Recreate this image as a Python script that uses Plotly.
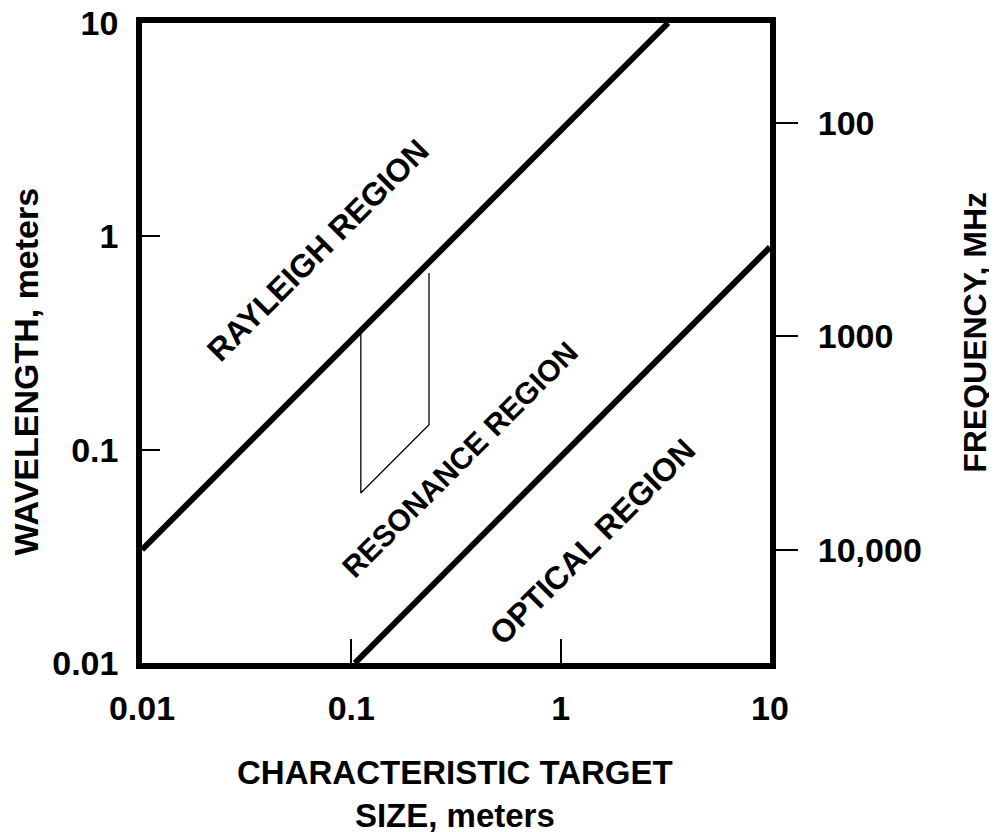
import math
import plotly.graph_objects as go

# ---- data ----
size_ticks = [0.01, 0.1, 1, 10]
size_tick_text = ["0.01", "0.1", "1", "10"]
wl_ticks = [0.01, 0.1, 1, 10]
wl_tick_text = ["0.01", "0.1", "1", "10"]
freq_ticks = [100, 1000, 10000]
freq_tick_text = ["100", "1000", "10,000"]
freq_const = 340  # MHz*m, calibration of right axis as drawn

rayleigh_size = [0.01, 3.26]
rayleigh_wl = [0.034, 10]
optical_size = [0.104, 10]
optical_wl = [0.01, 0.89]
box_size = [0.111, 0.111, 0.235, 0.235]
box_wl = [0.355, 0.0627, 0.131, 0.673]

region_labels = ["RAYLEIGH REGION", "RESONANCE REGION", "OPTICAL REGION"]
region_log_x = [-1.159, -0.481, 0.150]
region_log_y = [-0.064, -1.048, -1.433]
region_font_sizes = [32, 30, 32]

FONT = "Liberation Sans, Arial, Helvetica, sans-serif"

fig = go.Figure()
fig.add_trace(go.Scatter(x=rayleigh_size, y=rayleigh_wl, mode="lines",
                         line=dict(color="black", width=6), showlegend=False,
                         hoverinfo="skip"))
fig.add_trace(go.Scatter(x=optical_size, y=optical_wl, mode="lines",
                         line=dict(color="black", width=6), showlegend=False,
                         hoverinfo="skip"))
fig.add_trace(go.Scatter(x=box_size, y=box_wl, mode="lines",
                         line=dict(color="black", width=1.3), showlegend=False,
                         hoverinfo="skip"))
# invisible trace to activate the right-hand frequency axis
fig.add_trace(go.Scatter(x=[1], y=[1000], yaxis="y2", mode="markers",
                         marker=dict(opacity=0), showlegend=False,
                         hoverinfo="skip"))

tickfont = dict(family=FONT, size=34, color="black", weight="bold")

# page body has an 8px margin: figure placed at (8, 8)
fig.update_layout(
    width=989, height=824,
    margin=dict(l=134, r=227, t=15, b=169),
    plot_bgcolor="white", paper_bgcolor="white",
    xaxis=dict(type="log", range=[-2, 1], tickvals=size_ticks,
               ticktext=size_tick_text, ticks="inside", ticklen=24,
               tickwidth=1.5, tickcolor="black", showgrid=False,
               zeroline=False, showline=True, linecolor="black",
               linewidth=5.5, mirror=True, tickfont=tickfont,
               ticklabelstandoff=10, automargin=False,
               ticklabeloverflow="allow"),
    yaxis=dict(type="log", range=[-2, 1], tickvals=wl_ticks,
               ticktext=wl_tick_text, ticks="inside", ticklen=18,
               tickwidth=1.5, tickcolor="black", showgrid=False,
               zeroline=False, showline=True, linecolor="black",
               linewidth=5.5, mirror=True, tickfont=tickfont,
               ticklabelstandoff=11, automargin=False,
               ticklabeloverflow="allow"),
    yaxis2=dict(type="log", overlaying="y", side="right",
                range=[math.log10(freq_const / 0.01),
                       math.log10(freq_const / 10)],
                tickvals=freq_ticks, ticktext=freq_tick_text,
                ticks="outside", ticklen=27, tickwidth=1.5,
                tickcolor="black", showgrid=False, zeroline=False,
                showline=False, tickfont=tickfont, ticklabelstandoff=13,
                automargin=False, ticklabeloverflow="allow"),
)

for txt, lx, ly, fs in zip(region_labels, region_log_x, region_log_y,
                           region_font_sizes):
    fig.add_annotation(x=lx, y=ly, xref="x", yref="y", text=txt,
                       showarrow=False, textangle=-45,
                       font=dict(family=FONT, size=fs, color="black",
                                 weight="bold"),
                       xanchor="center", yanchor="middle")

fig.add_annotation(x=0.498, y=-0.204, xref="paper", yref="paper",
                   text="CHARACTERISTIC TARGET<br>SIZE, meters",
                   showarrow=False,
                   font=dict(family=FONT, size=33, color="black",
                             weight="bold"),
                   align="center", xanchor="center", yanchor="middle")
fig.add_annotation(x=-0.185, y=0.455, xref="paper", yref="paper",
                   text="WAVELENGTH, meters", textangle=-90,
                   showarrow=False,
                   font=dict(family=FONT, size=34, color="black",
                             weight="bold"),
                   xanchor="center", yanchor="middle")
fig.add_annotation(x=1.326, y=0.517, xref="paper", yref="paper",
                   text="FREQUENCY, MHz", textangle=-90,
                   showarrow=False,
                   font=dict(family=FONT, size=32, color="black",
                             weight="bold"),
                   xanchor="center", yanchor="middle")

fig.write_html("out.html")
